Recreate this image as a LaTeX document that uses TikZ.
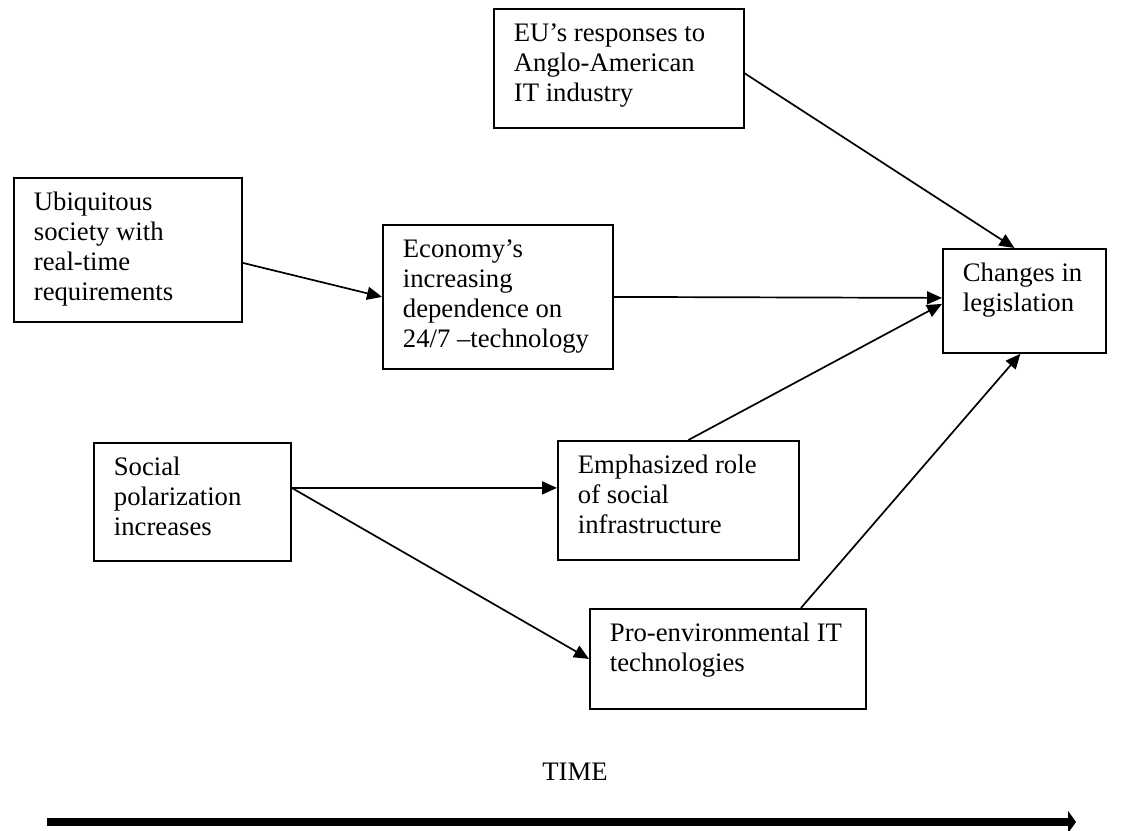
\documentclass[tikz,border=0pt]{standalone}
\usepackage{fontspec}
\setmainfont{Liberation Serif}
\usetikzlibrary{arrows.meta}
\begin{document}
\begin{tikzpicture}[x=1pt,y=-1pt,
  panel/.style 2 args={draw, line width=1.8pt, anchor=north west,
    inner xsep=20pt, inner ysep=12pt,
    font=\fontsize{26.7}{30}\selectfont,
    execute at begin node={\begin{minipage}[c][\dimexpr#2pt-24pt\relax][t]{\dimexpr#1pt-40pt\relax}\raggedright\strut},
    execute at end node={\end{minipage}}},
  link/.style={line width=1.7pt, -{Triangle[length=15pt,width=13pt]}},
  caption/.style={font=\fontsize{26.7}{30}\selectfont},
  timeline/.style={line width=8pt, -{Triangle[length=8pt,width=22pt]}},
]
\useasboundingbox (0,0) rectangle (1121,830);

% boxes
\node[panel={250}{119}] (eu)    at (493,8)   {EU’s responses to\\Anglo-American\\IT industry};
\node[panel={228}{144}] (ubi)   at (13,177)  {Ubiquitous\\society with\\real-time\\requirements};
\node[panel={230}{144}] (econ)  at (382,224) {Economy’s\\increasing\\dependence on\\24/7 –technology};
\node[panel={163}{104}] (law)   at (942,248) {Changes in\\legislation};
\node[panel={197}{118}] (polar) at (93,442)  {Social\\polarization\\increases};
\node[panel={241}{119}] (infra) at (557,440) {Emphasized role\\of social\\infrastructure};
\node[panel={276}{100}] (green) at (589,608) {Pro-environmental IT\\technologies};

% influences
\draw[link] ([yshift=-13pt]ubi.east) -- (econ.west);
\draw[link] (econ.east) -- ([yshift=3pt]law.west);
\draw[link] ([yshift=-5pt]eu.east) -- ([xshift=-10pt]law.north);
\draw[link] ([xshift=10pt]infra.north) -- ([yshift=-3pt]law.west);
\draw[link] ([yshift=14pt]polar.east) -- ([yshift=12.5pt]infra.west);
\draw[link] ([yshift=14pt]polar.east) -- (green.west);
\draw[link] ([xshift=73pt]green.north) -- ([xshift=-4pt]law.south);

% time axis
\node[caption] (time) at (575,772) {TIME};
\coordinate (t0) at (47,822);
\coordinate (t1) at (1076,822);
\draw[timeline] (t0) -- (t1);
\end{tikzpicture}
\end{document}
